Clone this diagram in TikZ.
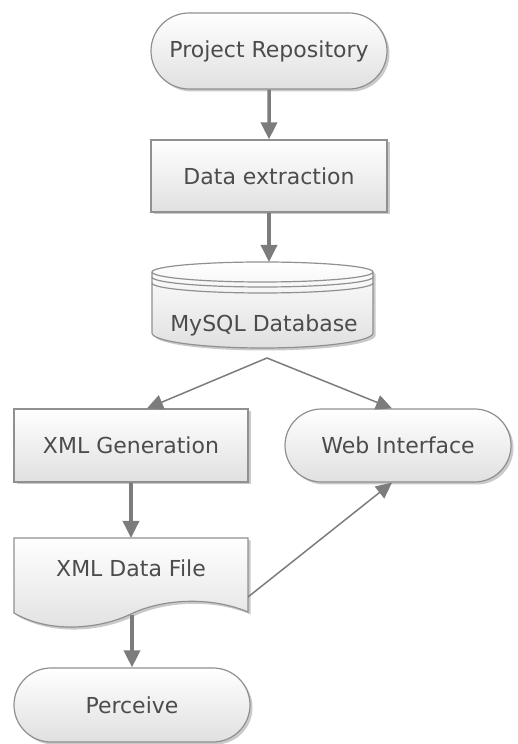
\documentclass[tikz,border=0pt]{standalone}
\usepackage{fontspec}
\setmainfont{DejaVu Sans}
\usetikzlibrary{shapes.misc,shadows,arrows.meta,calc}
\definecolor{bord}{HTML}{909090}
\definecolor{arr}{HTML}{7C7C7C}
\definecolor{txt}{HTML}{4C4C4C}
\definecolor{shadecol}{HTML}{E0E0E0}
\begin{document}
\begin{tikzpicture}[x=1pt,y=1pt,
  lbl/.style={text=txt,font=\fontsize{22}{26}\selectfont,inner sep=0pt},
  base/.style={lbl,draw=bord,line width=1.2pt,top color=white,bottom color=shadecol,
    drop shadow={shadow xshift=2.5pt,shadow yshift=-2.5pt,opacity=.35,fill=black!60}},
  procbox/.style={base,rectangle,minimum width=236pt,minimum height=72pt},
  termbox/.style={base,rounded rectangle,minimum width=236pt,minimum height=76pt},
  ghost/.style={inner sep=0pt,outer sep=0pt},
  shapefill/.style={draw=bord,line width=1.2pt,top color=white,bottom color=shadecol},
  shadowfill/.style={fill=black!60,opacity=.35},
  thickarr/.style={draw=arr,line width=3.5pt,-{Triangle[width=16pt,length=17pt]}},
  thinarr/.style={draw=arr,line width=1.5pt,-{Triangle[width=15pt,length=16pt]}}]
\useasboundingbox (0,0) rectangle (517,744);

% Project repository and data extraction
\node[termbox] (pr) at (269,693) {Project Repository};
\node[procbox] (de) at (269,568) {Data extraction};

% MySQL database (cylinder)
\node[ghost,minimum width=221pt,minimum height=86pt] (db) at (262.5,439) {};
\path[shadowfill,shift={(2.5,-2.5)}] (152,472) -- (152,411)
  arc[start angle=180,end angle=360,x radius=110.5,y radius=15] -- (373,472)
  arc[start angle=0,end angle=180,x radius=110.5,y radius=10] -- cycle;
\path[shapefill] (152,472) -- (152,411)
  arc[start angle=180,end angle=360,x radius=110.5,y radius=15] -- (373,472)
  arc[start angle=0,end angle=180,x radius=110.5,y radius=10] -- cycle;
\draw[bord,line width=1.2pt] (152,472) arc[start angle=180,end angle=360,x radius=110.5,y radius=10];
\draw[bord,line width=1.2pt] (152,467) arc[start angle=180,end angle=360,x radius=110.5,y radius=10];
\draw[bord,line width=1.2pt] (152,461) arc[start angle=180,end angle=360,x radius=110.5,y radius=10];
\node[lbl] (dbl) at (264,419) {MySQL Database};

% second row
\node[procbox,minimum width=234pt,minimum height=73pt] (xg) at (131,298.5) {XML Generation};
\node[termbox,minimum width=226pt,minimum height=73pt] (wi) at (398,298.5) {Web Interface};

% XML data file (document shape)
\node[ghost,minimum width=234pt,minimum height=88pt] (xdf) at (131,162) {};
\path[shadowfill,shift={(2.5,-2.5)}] (14,206) -- (248,206) -- (248,132)
  .. controls (210,148) and (162,145) .. (131,130)
  .. controls (100,115) and (50,110) .. (14,131) -- cycle;
\path[shapefill] (14,206) -- (248,206) -- (248,132)
  .. controls (210,148) and (162,145) .. (131,130)
  .. controls (100,115) and (50,110) .. (14,131) -- cycle;
\node[lbl] (xdfl) at (131,176) {XML Data File};

% Perceive
\node[termbox,minimum height=74pt] (pe) at (132,39) {Perceive};
\coordinate (xdfb) at (132,129);

% connectors
\coordinate (split) at (267,386);
\draw[thickarr] (pr) -- (de);
\draw[thickarr] (de.south) -- (de.south |- db.north);
\draw[thinarr] (split) -- ([xshift=16pt]xg.north);
\draw[thinarr] (split) -- ([xshift=-6pt]wi.north);
\draw[thickarr] (xg.south) -- (xg.south |- xdf.north);
\draw[thinarr] ([yshift=-15pt]xdf.east) -- ([xshift=-6pt]wi.south);
\draw[thickarr] (xdfb) -- (pe.north);
\end{tikzpicture}
\end{document}
